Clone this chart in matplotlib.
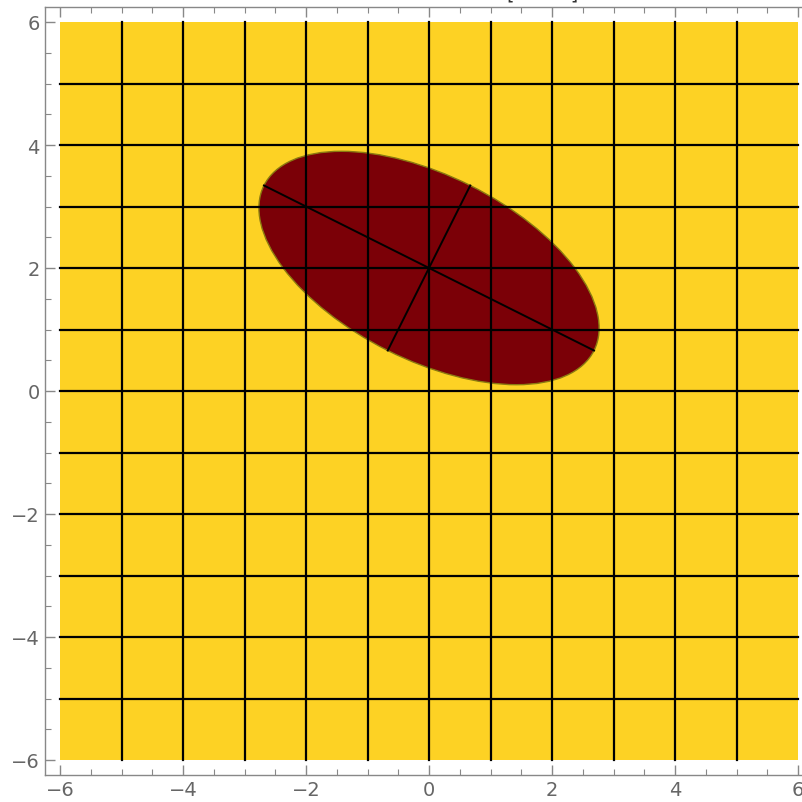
import numpy as np
import matplotlib
matplotlib.use('Agg')
import matplotlib.pyplot as plt
from matplotlib.patches import Ellipse, Rectangle
from matplotlib.ticker import MultipleLocator

# data
region = (-6, 6)
grid_pos = [-5, -4, -3, -2, -1, 0, 1, 2, 3, 4, 5]
center = (0, 2)
semi_major = 3.0
semi_minor = 1.5
angle_deg = np.degrees(np.arctan2(-1, 2))

yellow = '#FDD224'
darkred = '#7B0007'
gray = '#888888'

fig = plt.figure(figsize=(8.02, 8.03), dpi=100)
s = 61.5
ax = fig.add_axes([(60 - 0.25 * s) / 802, (803 - 761 - 0.25 * s) / 803,
                   12.5 * s / 802, 12.5 * s / 803])
ax.set_xlim(-6.25, 6.25)
ax.set_ylim(-6.25, 6.25)

ax.add_patch(Rectangle((region[0], region[0]), region[1] - region[0], region[1] - region[0],
                       facecolor=yellow, edgecolor='none', zorder=1))
ax.add_patch(Ellipse(center, 2 * semi_major, 2 * semi_minor, angle=angle_deg,
                     facecolor=darkred, edgecolor='#8a7a10', lw=1.0, zorder=2))

for g in grid_pos:
    ax.plot([g, g], [region[0], region[1]], color='black', lw=1.6, zorder=3)
    ax.plot([region[0], region[1]], [g, g], color='black', lw=1.6, zorder=3)

# semi-axes
t = np.radians(angle_deg)
u = np.array([np.cos(t), np.sin(t)])
v = np.array([-np.sin(t), np.cos(t)])
c = np.array(center)
for vec, r in [(u, semi_major), (v, semi_minor)]:
    p0 = c - r * vec
    p1 = c + r * vec
    ax.plot([p0[0], p1[0]], [p0[1], p1[1]], color='black', lw=1.4, zorder=4)

ax.xaxis.set_major_locator(MultipleLocator(2))
ax.yaxis.set_major_locator(MultipleLocator(2))
ax.xaxis.set_minor_locator(MultipleLocator(0.5))
ax.yaxis.set_minor_locator(MultipleLocator(0.5))
ax.tick_params(which='both', direction='in', top=True, right=True, color=gray,
               labelcolor='#666666', labelsize=14)
ax.tick_params(which='major', length=7, width=1)
ax.tick_params(which='minor', length=4, width=0.8)
for sp in ax.spines.values():
    sp.set_color(gray)
    sp.set_linewidth(1)

# title sits above the visible area, only its brackets peek in
fig.text(543 / 802, 1.0 - 4 / 803, '[         ]', ha='center', va='bottom',
         fontsize=14, color='#333333')

fig.savefig('out.png', dpi=100)
